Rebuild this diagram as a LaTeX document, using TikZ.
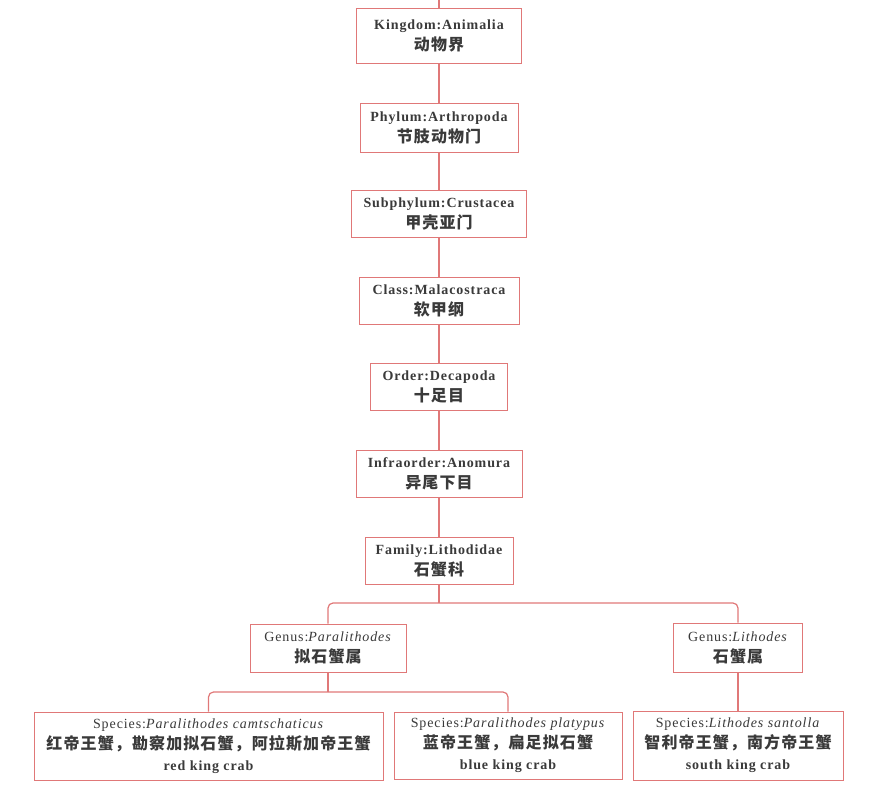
\documentclass[tikz,border=0pt]{standalone}
\usepackage{fontspec}
\setmainfont{Liberation Serif}[LetterSpace=6.5]
\newfontfamily\cjk{Noto Sans CJK SC}[LetterSpace=7]
\usetikzlibrary{positioning}
\definecolor{linkred}{RGB}{224,120,120}
\definecolor{inkgray}{RGB}{58,58,58}
\newcommand{\zh}[1]{{\cjk\bfseries\fontsize{16}{21}\selectfont #1}}
\tikzset{x=1pt, y=-1pt,
taxon/.style={ % Sets the properties for each rank box
draw=linkred,
line width=0.8pt,
fill=white,
text=inkgray,
align=center,
inner sep=0pt,
minimum height=47pt,
font=\fontsize{14}{21}\selectfont\bfseries},
species/.style={taxon, minimum height=68pt}, % three-line boxes at the bottom
link/.style={ % Sets the properties for each connector
draw=linkred,
line width=1.2pt,
rounded corners=5pt}}

\begin{document}
\begin{tikzpicture}
\useasboundingbox (0,0) rectangle (879,796);
\coordinate (top) at (439,0);
\node[taxon, minimum width=165pt, minimum height=55pt] (kingdom) at (439,35.5) {Kingdom:Animalia\\ \zh{动物界}};
\node[taxon, minimum width=158pt, minimum height=49pt] (phylum) at (439,127.5) {Phylum:Arthropoda\\ \zh{节肢动物门}};
\node[taxon, minimum width=175pt] (subphylum) at (439,213.5) {Subphylum:Crustacea\\ \zh{甲壳亚门}};
\node[taxon, minimum width=160pt] (class) at (439,300.5) {Class:Malacostraca\\ \zh{软甲纲}};
\node[taxon, minimum width=137pt] (order) at (439,386.5) {Order:Decapoda\\ \zh{十足目}};
\node[taxon, minimum width=166pt] (infraorder) at (439,473.5) {Infraorder:Anomura\\ \zh{异尾下目}};
\node[taxon, minimum width=148pt] (family) at (439,560.5) {Family:Lithodidae\\ \zh{石蟹科}};
\node[taxon, minimum width=156pt, minimum height=48pt] (paragenus) at (328,648) {\mdseries Genus:\textit{Paralithodes}\\ \zh{拟石蟹属}};
\node[taxon, minimum width=129pt, minimum height=49pt] (lithgenus) at (738,647.5) {\mdseries Genus:\textit{Lithodes}\\ \zh{石蟹属}};
\node[species, minimum width=349pt] (redcrab) at (208.5,746) {{\mdseries Species:\textit{Paralithodes camtschaticus}}\\ \zh{红帝王蟹，勘察加拟石蟹，阿拉斯加帝王蟹}\\ red king crab};
\node[species, minimum width=228pt, minimum height=67pt] (bluecrab) at (508,745.5) {{\mdseries Species:\textit{Paralithodes platypus}}\\ \zh{蓝帝王蟹，扁足拟石蟹}\\ blue king crab};
\node[species, minimum width=210pt, minimum height=69pt] (southcrab) at (738,745.5) {{\mdseries Species:\textit{Lithodes santolla}}\\ \zh{智利帝王蟹，南方帝王蟹}\\ south king crab};
\coordinate (famfork) at (439,603);
\coordinate (parafork) at (328,692);
% main line down the ranks
\draw[link] (top) -- (kingdom);
\draw[link] (kingdom) -- (phylum);
\draw[link] (phylum) -- (subphylum);
\draw[link] (subphylum) -- (class);
\draw[link] (class) -- (order);
\draw[link] (order) -- (infraorder);
\draw[link] (infraorder) -- (family);
% branches
\draw[link] (family) -- (famfork);
\draw[link] (famfork) -| (paragenus);
\draw[link] (famfork) -| (lithgenus);
\draw[link] (paragenus) -- (parafork);
\draw[link] (parafork) -| (redcrab);
\draw[link] (parafork) -| (bluecrab);
\draw[link] (lithgenus) -- (southcrab);
\end{tikzpicture}
\end{document}
